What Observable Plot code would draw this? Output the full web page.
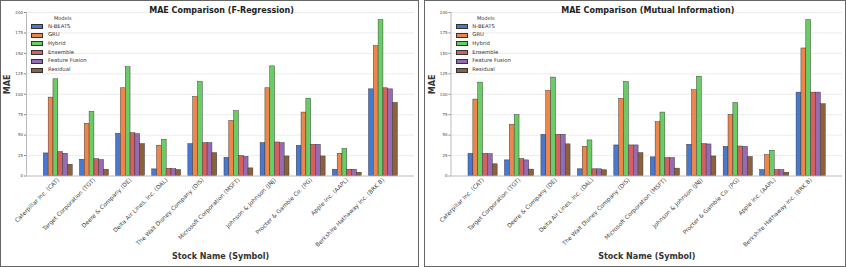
<!DOCTYPE html>
<html><head><meta charset="utf-8">
<script src="https://cdn.jsdelivr.net/npm/d3@7"></script>
<script src="https://cdn.jsdelivr.net/npm/@observablehq/plot@0.6"></script>
<style>
body{margin:0;background:#fff;font-family:"DejaVu Sans",sans-serif;}
#wrap{position:relative;width:846px;height:267px;overflow:hidden;background:#fff;}
.panel{position:absolute;top:0;height:267px;}
.panel svg{position:absolute;left:0;top:0;}
.border{position:absolute;left:0;top:0;right:0;bottom:0;border:1.5px solid #666;box-sizing:border-box;pointer-events:none;}
.lg{position:absolute;font-size:5.3px;color:#333;line-height:1;white-space:nowrap;}
.sw{position:absolute;width:12px;height:5px;box-sizing:border-box;border:0.5px solid #333;}
</style></head><body><div id="wrap"></div>
<script>
const stocks = ["Caterpillar Inc. (CAT)","Target Corporation (TGT)","Deere & Company (DE)","Delta Air Lines, Inc. (DAL)","The Walt Disney Company (DIS)","Microsoft Corporation (MSFT)","Johnson & Johnson (JNJ)","Procter & Gamble Co. (PG)","Apple Inc. (AAPL)","Berkshire Hathaway Inc. (BRK.B)"];
const models = ["N-BEATS","GRU","Hybrid","Ensemble","Feature Fusion","Residual"];
const colors = ["#4878d0","#ee854a","#6acc64","#d65f5f","#956cb4","#8c613c"];
const yTicks = [0,25,50,75,100,125,150,175,200];

// F-Regression
const fregNBEATS   = [27.6,19.9,51.6,8.1,39.0,22.3,40.2,37.0,7.7,106.0];
const fregGRU      = [95.9,63.8,107.3,37.0,96.7,67.4,107.3,77.6,27.2,158.9];
const fregHybrid   = [118.3,78.4,133.0,44.3,115.0,79.3,134.1,94.6,32.9,190.6];
const fregEnsemble = [29.3,20.7,52.4,8.9,40.2,24.4,41.0,38.2,7.7,107.3];
const fregFusion   = [27.2,19.5,51.2,8.5,40.2,23.5,40.2,38.2,7.7,106.0];
const fregResidual = [13.8,7.7,39.0,7.3,28.0,9.3,23.9,23.9,4.0,89.4];

// Mutual Information
const miNBEATS   = [27.0,19.1,50.4,8.2,37.4,22.8,38.2,35.7,7.3,102.0];
const miGRU      = [93.5,62.7,104.0,35.7,94.3,65.8,104.9,74.8,25.6,156.0];
const miHybrid   = [114.2,74.4,120.4,43.5,115.0,77.6,121.5,89.4,30.9,190.6];
const miEnsemble = [27.0,20.7,50.4,8.2,37.4,22.0,39.0,36.1,7.3,102.0];
const miFusion   = [26.8,19.1,50.4,8.2,37.4,22.0,38.6,35.7,7.3,102.0];
const miResidual = [14.3,7.8,38.7,7.0,28.0,9.0,23.9,23.2,4.0,87.8];

const panels = [
  {title:"MAE Comparison (F-Regression)", series:[fregNBEATS,fregGRU,fregHybrid,fregEnsemble,fregFusion,fregResidual], left:0, width:419, ml:26, mr:5, lgSw:31, lgTx:48, lgTitle:63},
  {title:"MAE Comparison (Mutual Information)", series:[miNBEATS,miGRU,miHybrid,miEnsemble,miFusion,miResidual], left:424, width:422, ml:26.5, mr:4, lgSw:32, lgTx:48.3, lgTitle:62}
];

const wrap = document.getElementById("wrap");
const bw = 0.8/models.length;
const xDom = [-0.88, 9.86];

for (const p of panels) {
  const rows = [];
  p.series.forEach((vals, m) => vals.forEach((v, i) => rows.push({i, m, model: models[m], value: v})));
  const chart = Plot.plot({
    width: p.width, height: 267,
    marginTop: 12, marginBottom: 91.5, marginLeft: p.ml, marginRight: p.mr,
    style: {fontFamily: "DejaVu Sans, sans-serif", fontSize: "5px", color: "#444", background: "transparent", overflow: "visible"},
    x: {domain: xDom, label: null},
    y: {domain: [0, 200], label: null},
    color: {domain: models, range: colors},
    marks: [
      Plot.ruleY(yTicks.slice(1), {stroke: "#e4e4e4", strokeWidth: 0.7}),
      Plot.rect(rows, {x1: d => d.i - 0.4 + d.m*bw, x2: d => d.i - 0.4 + (d.m+1)*bw, y1: 0, y2: "value", fill: "model", stroke: "#333", strokeWidth: 0.45}),
      Plot.ruleY([0], {stroke: "#aaa", strokeWidth: 0.8}),
      Plot.ruleX([xDom[0]], {stroke: "#aaa", strokeWidth: 0.8}),
      Plot.axisY({ticks: yTicks, tickSize: 2, tickPadding: 1.5, fontSize: 4, label: null, stroke: "#888", fill: "#444"}),
      Plot.axisX({ticks: d3.range(stocks.length), tickFormat: i => stocks[i], tickRotate: -45, tickSize: 0, tickPadding: 3, fontSize: 5.8, label: null, fill: "#444"}),
      Plot.text([p.title], {frameAnchor: "top", dy: -5.5, dx: 1, fontSize: 8, fontWeight: "bold", fill: "#222"}),
      Plot.text(["MAE"], {frameAnchor: "left", dx: -19, rotate: -90, fontSize: 8, fontWeight: "bold", fill: "#333"}),
      Plot.text(["Stock Name (Symbol)"], {frameAnchor: "bottom", dy: 82.5, fontSize: 8, fontWeight: "bold", fill: "#333"})
    ]
  });
  const div = document.createElement("div");
  div.className = "panel";
  div.style.left = p.left + "px";
  div.style.width = p.width + "px";
  div.appendChild(chart);
  // legend
  const t = document.createElement("div");
  t.className = "lg";
  t.textContent = "Models";
  t.style.left = (p.lgTitle - 9) + "px";
  t.style.top = "16.3px";
  t.style.fontSize = "5px";
  div.appendChild(t);
  models.forEach((name, k) => {
    const sw = document.createElement("div");
    sw.className = "sw";
    sw.style.left = p.lgSw + "px";
    sw.style.top = (24 + 8.7*k) + "px";
    sw.style.background = colors[k];
    div.appendChild(sw);
    const tx = document.createElement("div");
    tx.className = "lg";
    tx.textContent = name;
    tx.style.left = p.lgTx + "px";
    tx.style.top = (23.6 + 8.7*k) + "px";
    div.appendChild(tx);
  });
  const b = document.createElement("div");
  b.className = "border";
  div.appendChild(b);
  wrap.appendChild(div);
}
</script>
</body></html>
